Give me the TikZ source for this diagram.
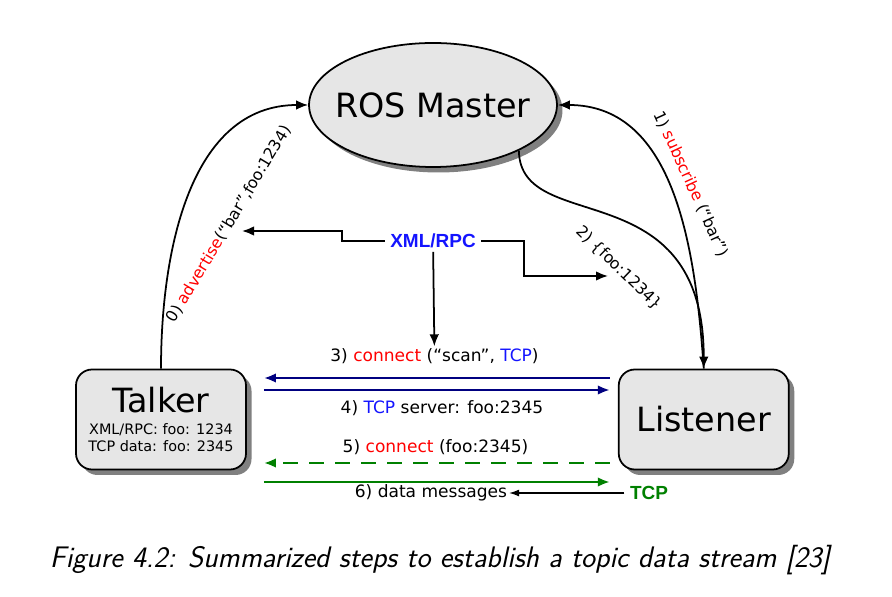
\documentclass[tikz,border=0pt]{standalone}
\usepackage{fontspec}
\setmainfont{DejaVu Sans}
\newfontfamily\tagfont{Liberation Sans}
\usetikzlibrary{arrows.meta,positioning,shapes.geometric,shadows}
\definecolor{rosred}{RGB}{255,0,0}
\definecolor{rosblue}{RGB}{20,20,255}
\definecolor{rosnavy}{RGB}{0,0,128}
\definecolor{rosgreen}{RGB}{0,128,0}
\definecolor{rosfill}{RGB}{230,230,230}
\tikzset{>={Latex[length=2.4mm,width=1.9mm]}, % Filled arrow heads
        boxshadow/.style={ % Grey shadow down to the right
            drop shadow={shadow xshift=0.11cm,shadow yshift=-0.11cm,fill=black!50,opacity=1}},
        master/.style={ % The ellipse on top
            ellipse, draw, line width=1pt, fill=rosfill, boxshadow,
            minimum width=4.88cm, minimum height=2.48cm, inner xsep=-0.2cm, inner ysep=0pt,
            font=\fontsize{19}{22}\selectfont},
        box/.style={ % Talker and listener
            rectangle, rounded corners=0.32cm, draw, line width=1pt, fill=rosfill, boxshadow,
            minimum width=3.4cm, minimum height=2cm, align=center, inner sep=0pt,
            font=\fontsize{19}{22}\selectfont},
        msg/.style={font=\fontsize{9.7}{11}\selectfont, inner sep=1pt}, % Step labels
        slanted/.style={msg, font=\fontsize{9}{11}\selectfont}, % Labels along the curves
        tag/.style={font=\tagfont\bfseries\fontsize{10.8}{12}\selectfont, inner xsep=3pt, inner ysep=2pt},
        call/.style={->, line width=1pt}, % Black XML/RPC lines
        toleft/.style={shorten >=0.34cm, shorten <=0.16cm}, % Gaps next to the boxes
        toright/.style={shorten <=0.34cm, shorten >=0.16cm},
        navyline/.style={->, line width=1.6pt, draw=rosnavy},
        greenline/.style={->, line width=1.6pt, draw=rosgreen}
        }

\begin{document}
\begin{tikzpicture}
    \useasboundingbox (0,0) rectangle (17.84,11.92);

    \node[master]   (master)   at (8.66,9.82)          {ROS Master};
    \node[box, font=\fontsize{8.2}{9.6}\selectfont] (talker) at (3.22,3.53)
        {{\fontsize{19}{22}\selectfont Talker}\\[3pt]XML/RPC: foo: 1234\\TCP data: foo: 2345};
    \node[box]      (listener) [right=7.42cm of talker] {Listener};

    \node[tag, text=rosblue] (xmlrpc) at (8.66,7.10) {XML/RPC};
    \node[tag, text=rosgreen] (tcp)   at (12.98,2.06) {TCP};

    % labels of the steps
    \node[slanted, rotate=59]    (advert) at (4.58,7.44) {0) \textcolor{rosred}{advertise}(“bar”,foo:1234)};
    \node[slanted, rotate=-65.5] (subs)   at (13.82,8.24) {1) \textcolor{rosred}{subscribe} (“bar”)};
    \node[slanted, rotate=-44]   (reply)  at (12.38,6.56) {2) \{foo:1234\}};
    \node[msg] (step3) at (8.69,4.80) {3) \textcolor{rosred}{connect} (“scan”, \textcolor{rosblue}{TCP})};
    \node[msg] (step4) at (8.84,3.76) {4) \textcolor{rosblue}{TCP} server: foo:2345};
    \node[msg] (step5) at (8.71,2.98) {5) \textcolor{rosred}{connect} (foo:2345)};
    \node[msg] (step6) at (8.62,2.06) {6) data messages};

    \coordinate (advtip) at (4.84,7.30);
    \coordinate (regtip) at (12.16,6.40);

    \draw[call] (talker.north) to[out=90,in=180] (master.west);
    \draw[call] (listener.north) to[out=94,in=0] (master.east);
    \draw[call] (master.-28) to[out=-89,in=90,out distance=1.74cm,in distance=4cm] (listener.north);

    \draw[call] (xmlrpc.west) -- ++(-0.86,0) |- (advtip);
    \draw[call] (xmlrpc.east) -- ++(0.86,0) |- (regtip);
    \draw[call] (xmlrpc) -- (step3);

    \draw[navyline, toleft] ([yshift=0.83cm]listener.west) -- ([yshift=0.83cm]talker.east);
    \draw[navyline, toright] ([yshift=0.59cm]talker.east) -- ([yshift=0.59cm]listener.west);
    \draw[greenline, toleft, dashed, dash pattern=on 0.3cm off 0.22cm]
        ([yshift=-0.87cm]listener.west) -- ([yshift=-0.87cm]talker.east);
    \draw[greenline, toright] ([yshift=-1.25cm]talker.east) -- ([yshift=-1.25cm]listener.west);
    \draw[->, >={Latex[length=2mm,width=1.4mm]}, line width=0.6pt] (tcp) -- (step6);

    \node[font=\sffamily\itshape\fontsize{16.9}{19}\selectfont] (caption) at (8.8,0.72)
        {Figure 4.2: Summarized steps to establish a topic data stream [23]};
\end{tikzpicture}
\end{document}
